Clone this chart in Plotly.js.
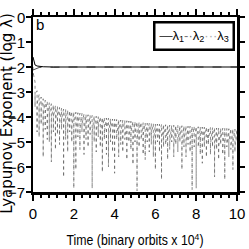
<!DOCTYPE html>
<html><head><meta charset="utf-8">
<script src="https://cdn.plot.ly/plotly-3.0.1.min.js"></script>
<style>html,body{margin:0;padding:0;background:#fff;}#plot{width:249px;height:249px;}</style>
</head><body><div id="plot"></div>
<script>
// lambda_1 and lambda_2 (converge to -2)
var t12 = [0, 0.05, 0.1, 0.2, 0.3, 0.5, 1, 2, 4, 6, 8, 10];
var lam1 = [-1.6, -1.82, -1.92, -1.96, -1.98, -1.99, -2.0, -2.0, -2.0, -2.0, -2.0, -2.0];
var lam2 = [-2.12, -2.1, -2.07, -2.04, -2.02, -2.01, -2.0, -2.0, -2.0, -2.0, -2.0, -2.0];

// lambda_3 : upper envelope, typical dips and deep excursions at each time sample
var t3 = [0,0.1,0.2,0.3,0.4,0.5,0.6,0.7,0.8,0.9,1,1.1,1.2,1.3,1.4,1.5,1.6,1.7,1.8,1.9,
2,2.1,2.2,2.3,2.4,2.5,2.6,2.7,2.8,2.9,3,3.1,3.2,3.3,3.4,3.5,3.6,3.7,3.8,3.9,
4,4.1,4.2,4.3,4.4,4.5,4.6,4.7,4.8,4.9,5,5.1,5.2,5.3,5.4,5.5,5.6,5.7,5.8,5.9,
6,6.1,6.2,6.3,6.4,6.5,6.6,6.7,6.8,6.9,7,7.1,7.2,7.3,7.4,7.5,7.6,7.7,7.8,7.9,
8,8.1,8.2,8.3,8.4,8.5,8.6,8.7,8.8,8.9,9,9.1,9.2,9.3,9.4,9.5,9.6,9.7,9.8,9.9,10];
var lam3Top = [-2.00,-2.60,-2.95,-3.10,-3.20,-3.27,-3.33,-3.38,-3.43,-3.47,
-3.52,-3.55,-3.58,-3.62,-3.65,-3.68,-3.70,-3.73,-3.75,-3.78,
-3.80,-3.81,-3.83,-3.85,-3.86,-3.88,-3.90,-3.91,-3.93,-3.94,
-3.96,-3.97,-3.99,-4.00,-4.02,-4.03,-4.04,-4.05,-4.07,-4.08,
-4.09,-4.10,-4.11,-4.12,-4.13,-4.14,-4.15,-4.16,-4.17,-4.18,
-4.19,-4.20,-4.21,-4.22,-4.23,-4.24,-4.25,-4.25,-4.26,-4.27,
-4.28,-4.28,-4.29,-4.30,-4.30,-4.31,-4.32,-4.32,-4.33,-4.33,
-4.34,-4.34,-4.35,-4.35,-4.36,-4.36,-4.37,-4.37,-4.38,-4.38,
-4.39,-4.39,-4.40,-4.40,-4.41,-4.41,-4.42,-4.42,-4.43,-4.43,
-4.44,-4.44,-4.45,-4.45,-4.46,-4.46,-4.47,-4.47,-4.48,-4.49,-4.50];
var lam3Mid = [-2.2,-3.1,-3.5,-3.6,-3.7,-3.9,-3.8,-4.0,-3.9,-4.1,
-4.0,-4.2,-4.0,-4.3,-4.1,-4.3,-4.2,-4.4,-4.1,-4.4,
-4.3,-4.5,-4.2,-4.5,-4.3,-4.6,-4.3,-4.5,-4.3,-4.6,
-4.4,-4.6,-4.4,-4.7,-4.4,-4.6,-4.5,-4.7,-4.5,-4.8,
-4.5,-4.8,-4.5,-4.7,-4.6,-4.9,-4.6,-4.8,-4.6,-4.9,
-4.7,-4.9,-4.6,-4.9,-4.7,-5.0,-4.7,-4.9,-4.7,-5.0,
-4.8,-5.0,-4.7,-5.0,-4.8,-5.1,-4.8,-5.0,-4.8,-5.1,
-4.8,-5.0,-4.8,-5.1,-4.9,-5.1,-4.8,-5.1,-4.9,-5.1,
-4.9,-5.2,-4.9,-5.1,-4.9,-5.2,-4.9,-5.1,-4.9,-5.2,
-5.0,-5.2,-4.9,-5.2,-5.0,-5.2,-5.0,-5.2,-5.0,-5.2,-5.0];
var lam3Low = [-2.3,-3.6,-4.6,-4.8,-4.3,-5.6,-4.5,-4.9,-5.0,-5.8,
-4.6,-5.3,-4.7,-5.1,-4.5,-6.4,-4.9,-5.4,-4.6,-5.0,
-6.85,-6.1,-4.8,-5.3,-4.6,-5.5,-4.9,-5.2,-4.7,-6.85,
-5.0,-5.4,-4.8,-5.2,-6.2,-4.9,-5.5,-6.0,-5.0,-5.4,
-6.25,-4.9,-5.6,-5.1,-5.4,-4.9,-5.7,-5.0,-5.3,-5.9,
-5.0,-6.95,-5.2,-4.9,-5.5,-5.7,-5.0,-5.4,-5.1,-5.6,
-6.1,-5.0,-5.4,-6.5,-5.2,-5.0,-5.7,-5.3,-5.0,-5.6,
-5.1,-5.4,-5.0,-6.1,-5.2,-5.6,-5.1,-5.4,-6.9,-5.2,
-6.85,-5.1,-5.5,-5.85,-5.2,-5.6,-5.1,-5.5,-5.2,-6.4,
-5.3,-5.7,-5.1,-5.5,-6.5,-5.2,-5.6,-5.3,-6.1,-5.4,-5.0];

var legendLabels = ['λ<sub>1</sub>', 'λ<sub>2</sub>', 'λ<sub>3</sub>'];
var xTickVals = [0, 2, 4, 6, 8, 10];
var yTickVals = [0, -1, -2, -3, -4, -5, -6, -7];
var yTickText = ['0', '−1', '−2', '−3', '−4', '−5', '−6', '−7'];
var yTitle = 'Lyapunov Exponent (log λ)';

// interleave: envelope -> deep excursion -> envelope -> typical dip, per sample
var x3 = [], y3 = [];
for (var i = 0; i < t3.length; i++) {
  x3.push(t3[i]); y3.push(lam3Top[i]);
  x3.push(t3[i]); y3.push(lam3Low[i]);
  x3.push(t3[i]); y3.push(lam3Top[i]);
  x3.push(t3[i]); y3.push(lam3Mid[i]);
}

var FONT = 'Arial, Liberation Sans, sans-serif';

var traces = [
  {x: x3, y: y3, mode: 'lines', line: {color: '#5a5a5a', width: 0.7, dash: 'dot'}, showlegend: false, hoverinfo: 'skip'},
  {x: t12, y: lam2, mode: 'lines', line: {color: '#222', width: 0.8, dash: 'dash'}, showlegend: false, hoverinfo: 'skip'},
  {x: t12, y: lam1, mode: 'lines', line: {color: '#000', width: 1}, showlegend: false, hoverinfo: 'skip'}
];

// y tick labels and y title as text annotations anchored on the y scale
var annotations = [
  {xref: 'x', yref: 'y', x: 0.05, y: -0.3, text: 'b', showarrow: false, xanchor: 'left',
   font: {family: FONT, size: 15, color: '#000'}},
  {xref: 'paper', yref: 'paper', x: 0.99, y: 0.975, xanchor: 'right', yanchor: 'top', showarrow: false,
   text: '<span style="color:#444">—</span>' + legendLabels[0] + '<span style="color:#777">-·</span>' + legendLabels[1] + '<span style="color:#aaa">···</span>' + legendLabels[2],
   font: {family: FONT, size: 13, color: '#000'}, bordercolor: '#000', borderwidth: 2.5, borderpad: 4, bgcolor: '#fff'},
  {xref: 'paper', yref: 'paper', x: -0.125, y: 0.45, xanchor: 'center', yanchor: 'middle', showarrow: false,
   textangle: -90, text: yTitle, font: {family: 'DejaVu Sans, sans-serif', size: 15, color: '#000'}}
];
for (var k = 0; k < yTickVals.length; k++) {
  annotations.push({xref: 'paper', yref: 'y', x: 0, y: yTickVals[k], xanchor: 'right', yanchor: 'middle',
    xshift: -6, showarrow: false, text: yTickText[k], font: {family: FONT, size: 15, color: '#000'}});
}

var layout = {
  width: 249, height: 249,
  margin: {l: 33, r: 12, t: 17, b: 57},
  paper_bgcolor: '#fff', plot_bgcolor: '#fff', showlegend: false,
  xaxis: {range: [0, 10], tickvals: xTickVals, showline: true, linewidth: 2.5, linecolor: '#000', mirror: 'ticks', ticks: 'outside',
    tickcolor: '#000', tickwidth: 2, ticklen: 6, showgrid: false, zeroline: false,
    tickfont: {family: FONT, size: 15, color: '#000'},
    minor: {dtick: 0.4, ticklen: 3, ticks: 'outside'}, automargin: false,
    title: {text: 'Time (binary orbits x 10<sup>4</sup>)', font: {family: FONT, size: 14, color: '#000'}}},
  yaxis: {range: [-7, 0], tickmode: 'array', tickvals: yTickVals, showticklabels: false, ticks: 'outside', showline: true, linewidth: 2.5, mirror: 'ticks',
    showgrid: false, zeroline: false, linecolor: '#000', tickcolor: '#000', tickwidth: 2, ticklen: 5,
    automargin: false},
  annotations: annotations
};

Plotly.newPlot('plot', traces, layout, {displayModeBar: false, staticPlot: true}).then(function (gd) {
  var el = gd.querySelector('.xtitle');
  if (el) {
    var cx = parseFloat(el.getAttribute('x'));
    var prev = el.getAttribute('transform') || '';
    el.setAttribute('transform', 'translate(' + cx + ',0) scale(0.88,1) translate(' + (-cx) + ',0) ' + prev);
  }
});
</script></body></html>
